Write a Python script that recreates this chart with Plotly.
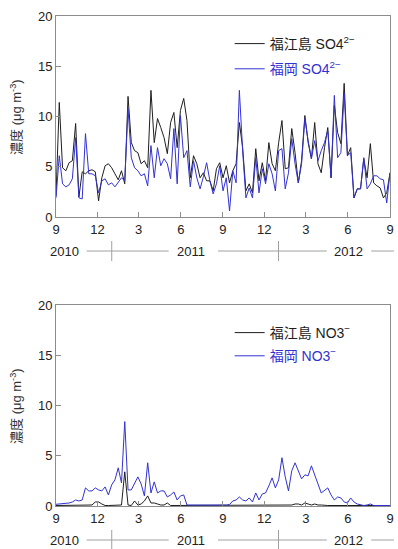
import pandas as pd
import plotly.graph_objects as go

# Weekly concentrations (µg/m3), Sep 2010 - Sep 2012
so4_fukue = [2.1, 11.4, 4.9, 4.6, 5.4, 5.6, 9.3, 2.0, 4.5, 4.3, 4.6, 4.7, 4.5, 1.6, 3.9, 5.1,
             5.3, 4.9, 4.3, 3.7, 4.6, 3.3, 12.0, 7.4, 6.6, 6.4,
             5.3, 5.6, 4.9, 12.6, 7.4, 9.8, 8.9, 7.9, 6.3, 9.4, 10.4, 6.9, 10.6, 11.8, 9.6, 3.9,
             6.1, 5.3, 3.9, 4.4, 3.6, 3.6, 2.6, 4.8, 5.4,
             3.9, 5.1, 3.4, 4.6, 5.3, 9.4, 6.9, 2.6, 3.3, 2.4, 6.8, 3.6, 5.4, 3.6, 7.4, 5.3,
             4.6, 7.4, 9.6, 4.8, 4.9, 8.8, 6.4, 3.4, 5.6,
             10.1, 7.4, 5.8, 9.4, 5.3, 4.4, 6.9, 8.9, 3.9, 11.1, 8.4, 7.3, 13.3, 6.1, 6.9, 1.9,
             2.8, 2.8, 5.8, 3.9, 7.3, 3.4, 3.1, 2.9, 1.9, 2.4, 4.4]
so4_fukuoka = [1.9, 6.1, 3.3, 3.0, 3.2, 3.8, 7.9, 1.9, 1.8, 8.3, 4.3, 4.3, 4.1, 2.4, 3.6, 3.8,
               3.2, 3.4, 3.0, 3.4, 3.9, 3.6, 10.8, 5.9, 4.9, 4.6,
               4.1, 4.3, 3.1, 7.1, 3.9, 6.9, 5.1, 5.8, 5.3, 3.8, 8.8, 3.3, 10.1, 5.9, 6.6, 3.0,
               5.6, 3.9, 2.8, 4.0, 5.4, 3.6, 2.3, 3.3, 5.1,
               2.6, 3.9, 0.6, 4.6, 3.4, 12.6, 6.6, 1.9, 2.9, 1.9, 5.9, 2.4, 4.8, 3.3, 5.3, 4.3,
               2.6, 6.6, 6.8, 2.8, 4.4, 7.8, 5.3, 3.4, 5.3,
               9.8, 7.6, 5.8, 7.6, 5.6, 6.6, 7.4, 8.6, 3.9, 12.1, 5.9, 6.4, 12.3, 6.1, 6.4, 1.9,
               2.8, 2.8, 5.9, 2.8, 3.3, 4.1, 4.1, 3.8, 3.7, 1.4, 4.4]

no3_fukue = [0.05, 0.05, 0.05, 0.05, 0.05, 0.05, 0.05, 0.05, 0.05, 0.05, 0.05, 0.1, 0.4, 0.4, 0.2,
             0.05, 0.05, 0.05, 0.05, 0.05, 0.1, 3.4, 0.1, 0.05, 0.5, 0.1, 0.2, 0.5, 1.0, 0.3,
             0.3, 0.2, 0.1, 0.1, 0.3, 0.05, 0.05, 0.05, 0.05, 0.05, 0.05, 0.05, 0.05, 0.05,
             0.05, 0.05, 0.05, 0.05, 0.05, 0.05, 0.05, 0.05, 0.05, 0.05, 0.05, 0.05, 0.05,
             0.05, 0.05, 0.05, 0.05, 0.05, 0.05, 0.05, 0.05, 0.05, 0.05, 0.05, 0.05, 0.05,
             0.05, 0.05, 0.1, 0.2, 0.2, 0.1, 0.3, 0.2, 0.1, 0.2, 0.1, 0.1, 0.05, 0.05, 0.05,
             0.05, 0.05, 0.05, 0.05, 0.05, 0.05, 0.05, 0.05, 0.05, 0.05, 0.05, 0.05, 0.05,
             0.05, 0.05, 0.05, 0.05, 0.05]
no3_fukuoka = [0.17, 0.2, 0.25, 0.3, 0.3, 0.4, 0.6, 0.5, 0.6, 1.8, 1.5, 1.5, 1.8, 1.6, 1.5,
               1.9, 1.1, 2.1, 2.6, 3.8, 2.3, 8.4, 1.6, 1.6, 2.3, 2.9, 2.2, 1.0, 4.3, 1.3,
               2.4, 1.3, 1.5, 1.5, 0.9, 1.1, 1.4, 0.6, 1.0, 1.1, 0.1, 0.1, 0.05, 0.05,
               0.1, 0.05, 0.1, 0.05, 0.1, 0.05, 0.05, 0.1, 0.1, 0.15, 0.5, 0.6, 0.9, 0.6,
               0.5, 0.8, 0.4, 1.3, 0.6, 1.2, 1.3, 2.0, 2.8, 1.8, 2.6, 4.8, 2.9, 1.5, 3.5,
               4.3, 3.5, 2.7, 3.1, 3.0, 4.0, 3.0, 2.2, 1.3, 1.6, 1.8, 1.1, 0.6, 0.9, 0.8,
               0.4, 0.3, 0.8, 0.4, 0.2, 0.1, 0.05, 0.1, 0.2, 0.05, 0.05, 0.05, 0.05, 0.05,
               0.05]

start, end = pd.Timestamp("2010-09-01"), pd.Timestamp("2012-09-01")
dates_so4 = pd.date_range(start, end, periods=len(so4_fukue))
dates_no3 = pd.date_range(start, end, periods=len(no3_fukue))

tick_dates = ["2010-09-01", "2010-12-01", "2011-03-01", "2011-06-01", "2011-09-01",
              "2011-12-01", "2012-03-01", "2012-06-01", "2012-09-01"]
tick_text = ["9", "12", "3", "6", "9", "12", "3", "6", "9"]
years = ["2010", "2011", "2012"]

BLACK = "#1e1e1e"
BLUE = "#3232d2"
FRAME = "#8c8c8c"
FONT = "Liberation Sans, Arial, Noto Sans CJK JP"

fig = go.Figure()
fig.add_trace(go.Scatter(x=dates_so4, y=so4_fukue, mode="lines", xaxis="x", yaxis="y",
                         line=dict(color=BLACK, width=1), name="福江島 SO4<sup>2−</sup>",
                         legend="legend", legendgroup="a"))
fig.add_trace(go.Scatter(x=dates_so4, y=so4_fukuoka, mode="lines", xaxis="x", yaxis="y",
                         line=dict(color=BLUE, width=1),
                         name="<span style='color:%s'>福岡 SO4<sup>2−</sup></span>" % BLUE,
                         legend="legend", legendgroup="b"))
fig.add_trace(go.Scatter(x=dates_no3, y=no3_fukue, mode="lines", xaxis="x2", yaxis="y2",
                         line=dict(color=BLACK, width=1), name="福江島 NO3<sup>−</sup>",
                         legend="legend2", legendgroup="c"))
fig.add_trace(go.Scatter(x=dates_no3, y=no3_fukuoka, mode="lines", xaxis="x2", yaxis="y2",
                         line=dict(color=BLUE, width=1),
                         name="<span style='color:%s'>福岡 NO3<sup>−</sup></span>" % BLUE,
                         legend="legend2", legendgroup="d"))

H, MT, MB = 549, 16, 43
PH = H - MT - MB


def py(ypix):
    return (H - MB - ypix) / PH


xcommon = dict(type="date", range=[start, end], tickvals=tick_dates, ticktext=tick_text,
               ticks="inside", ticklen=5, tickcolor=FRAME, showgrid=False, showline=True,
               mirror=True, linecolor=FRAME, linewidth=1, zeroline=False,
               tickfont=dict(size=13, color="#222"))
ycommon = dict(range=[0, 20], tickvals=[0, 5, 10, 15, 20], ticks="inside", ticklen=5,
               tickcolor=FRAME, showgrid=False, showline=True, mirror=True, linecolor=FRAME,
               linewidth=1, zeroline=False, tickfont=dict(size=13, color="#222"))

fig.update_layout(
    width=398, height=H,
    margin=dict(l=56, r=4, t=MT, b=MB),
    paper_bgcolor="white", plot_bgcolor="white",
    font=dict(family=FONT, size=13, color="#222"),
    xaxis=dict(domain=[0, 1], anchor="y", **xcommon),
    yaxis=dict(domain=[py(217), 1], anchor="x", **ycommon),
    xaxis2=dict(domain=[0, 1], anchor="y2", **xcommon),
    yaxis2=dict(domain=[0, py(305)], anchor="x2", **ycommon),
    legend=dict(x=0.52, y=py(28), xanchor="left", yanchor="top", bgcolor="rgba(0,0,0,0)",
                font=dict(size=14, color=BLACK), traceorder="grouped", tracegroupgap=4),
    legend2=dict(x=0.52, y=py(317), xanchor="left", yanchor="top", bgcolor="rgba(0,0,0,0)",
                 font=dict(size=14, color=BLACK), traceorder="grouped", tracegroupgap=2),
    showlegend=True,
)

span = (end - start).days


def frac(d):
    return (pd.Timestamp(d) - start).days / span


# y-axis titles
for yc in [(16 + 217) / 2, (305 + 506) / 2]:
    fig.add_annotation(text="濃度 (μg m<sup>-3</sup>)", xref="paper", yref="paper",
                       x=(15 - 56) / 338, y=py(yc), xanchor="center", yanchor="middle",
                       textangle=-90, showarrow=False, font=dict(size=13, color="#333"))

# year rows under each panel
for axis_y in (217, 506):
    yrow = axis_y + 34
    for yr, xp in zip(years, [65, 193, 352]):
        fig.add_annotation(text=yr, xref="paper", yref="paper", x=(xp - 56) / 338,
                           y=py(yrow), xanchor="center", yanchor="middle", showarrow=False,
                           font=dict(size=13, color="#222"))
    for x0, x1 in [(87, 170), (220, 330), (375, 398)]:
        fig.add_shape(type="line", xref="paper", yref="paper", x0=(x0 - 56) / 338,
                      x1=(x1 - 56) / 338, y0=py(yrow), y1=py(yrow),
                      line=dict(color="#a0a0a0", width=1))
    for d in ["2011-01-01", "2012-01-01"]:
        fig.add_shape(type="line", xref="paper", yref="paper", x0=frac(d), x1=frac(d),
                      y0=py(yrow - 10), y1=py(yrow + 10), line=dict(color="#a0a0a0", width=1))

fig.write_html("out.html")
